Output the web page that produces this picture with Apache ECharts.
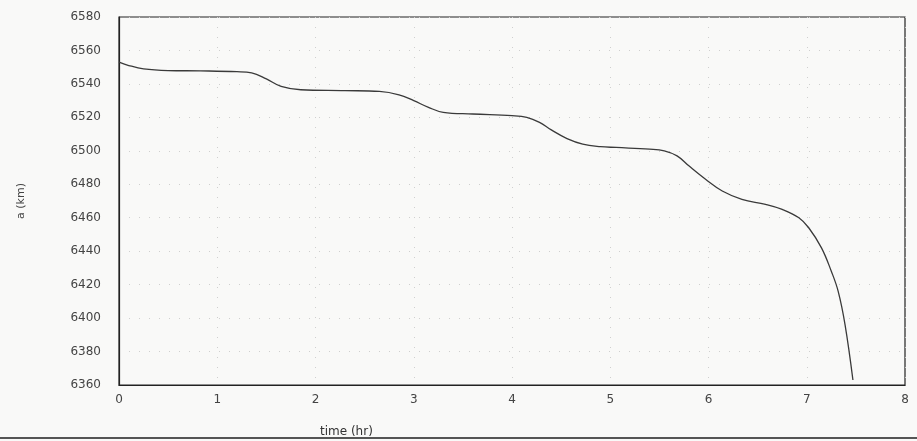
<!DOCTYPE html>
<html><head><meta charset="utf-8">
<script src="https://cdn.jsdelivr.net/npm/echarts@6/dist/echarts.min.js"></script>
<style>html,body{margin:0;padding:0;background:#f9f9f8}#c{width:917px;height:441px}</style>
</head><body><div id="c"></div>
<script>
const timeHr = [0, 0.1, 0.25, 0.5, 0.83, 1.2, 1.35, 1.5, 1.65, 1.85, 2.3, 2.65, 2.85, 3.0, 3.15, 3.3, 3.6, 4.0, 4.15, 4.28, 4.4, 4.56, 4.72, 4.9, 5.06, 5.40, 5.55, 5.68, 5.80, 5.97, 6.14, 6.34, 6.58, 6.75, 6.92, 7.02, 7.15, 7.25, 7.32, 7.39, 7.47];
const semiMajorKm = [6553, 6551, 6549, 6548, 6547.8, 6547.3, 6546.6, 6543, 6538.5, 6536.5, 6536, 6535.5, 6533.5, 6530, 6526, 6523, 6522, 6521, 6520, 6517, 6512.5, 6507.3, 6504, 6502.5, 6502, 6501, 6500, 6497, 6491, 6483, 6476, 6471, 6468, 6465, 6460, 6454, 6442, 6428, 6416, 6396, 6363];
const xTicks = [0,1,2,3,4,5,6,7,8];
const yTicks = [6360,6380,6400,6420,6440,6460,6480,6500,6520,6540,6560,6580];

const chart = echarts.init(document.getElementById('c'));
const font = 'DejaVu Sans';
const split = {show:true, lineStyle:{color:'#cfcfcf', type:[1,9], width:1}};
chart.setOption({
  backgroundColor:'#f9f9f8',
  animation:false,
  grid:{left:119, right:12, top:17, bottom:56, show:true, borderColor:'#222', borderWidth:1.2, backgroundColor:'transparent'},
  xAxis:{type:'value', min:xTicks[0], max:xTicks[xTicks.length-1], interval:1,
    axisLine:{show:true, onZero:false, lineStyle:{color:'#222', width:1.2}},
    axisTick:{show:false},
    axisLabel:{color:'#444', fontFamily:font, fontSize:12, margin:9, formatter:v=>String(v)},
    splitLine:split},
  yAxis:{type:'value', min:yTicks[0], max:yTicks[yTicks.length-1], interval:20,
    axisLine:{show:true, lineStyle:{color:'#222', width:1.2}},
    axisTick:{show:false},
    axisLabel:{color:'#444', fontFamily:font, fontSize:12, margin:18, formatter:v=>String(v)},
    name:'a (km)', nameLocation:'middle', nameGap:92, nameRotate:90,
    nameTextStyle:{color:'#444', fontFamily:font, fontSize:11},
    splitLine:split},
  series:[{type:'line', data:timeHr.map((t,i)=>[t, semiMajorKm[i]]), smooth:0.4, showSymbol:false,
    lineStyle:{color:'#3a3a3a', width:1.3}}],
  graphic:[
    {type:'text', left:320, top:426, style:{text:'time (hr)', fill:'#333', font:'12px "DejaVu Sans"'}},
    {type:'rect', shape:{x:0, y:437, width:917, height:2}, style:{fill:'#555'}}
  ]
});
</script></body></html>
